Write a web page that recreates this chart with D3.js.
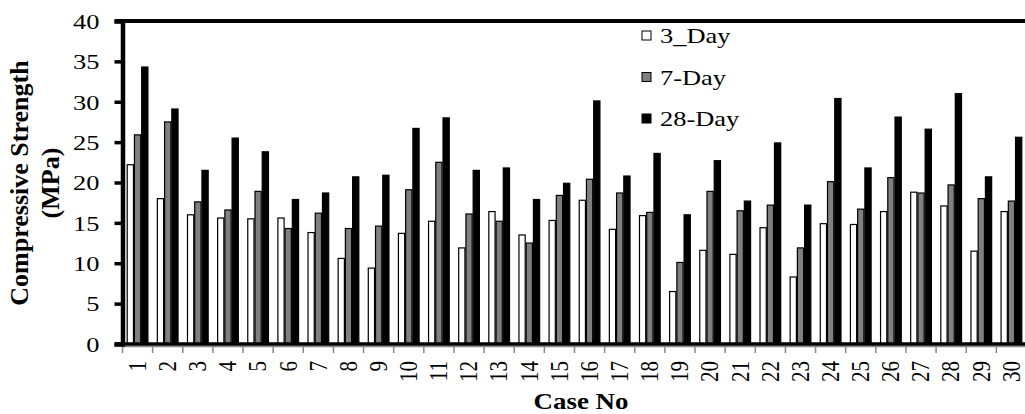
<!DOCTYPE html>
<html>
<head>
<meta charset="utf-8">
<script src="https://cdn.jsdelivr.net/npm/d3@7"></script>
<style>
  body { margin: 0; background: #fff; }
  svg text { font-family: "Liberation Serif", "Times New Roman", Times, serif; fill: #000; }
</style>
</head>
<body>
<div id="chart"></div>
<script>
// data
var cases = d3.range(1, 31).map(String);
var seriesNames = ["3_Day", "7-Day", "28-Day"];
var day3 = [22.2, 18.0, 16.0, 15.6, 15.5, 15.6, 13.8, 10.6, 9.4, 13.7,
            15.2, 11.9, 16.4, 13.5, 15.3, 17.8, 14.2, 15.9, 6.5, 11.6,
            11.1, 14.4, 8.3, 14.9, 14.8, 16.4, 18.8, 17.1, 11.5, 16.4];
var day7 = [25.9, 27.5, 17.6, 16.6, 18.9, 14.3, 16.2, 14.3, 14.6, 19.1,
            22.5, 16.1, 15.2, 12.5, 18.4, 20.4, 18.7, 16.3, 10.1, 18.9,
            16.5, 17.2, 11.9, 20.1, 16.7, 20.6, 18.7, 19.7, 18.0, 17.7];
var day28 = [34.3, 29.1, 21.5, 25.5, 23.8, 17.9, 18.7, 20.7, 20.9, 26.7,
             28.0, 21.5, 21.8, 17.9, 19.9, 30.1, 20.8, 23.6, 16.0, 22.7,
             17.7, 24.9, 17.2, 30.4, 21.8, 28.1, 26.6, 31.0, 20.7, 25.6];
var yTicks = [0, 5, 10, 15, 20, 25, 30, 35, 40];

var colors = ["#ffffff", "#808080", "#000000"];
var seriesValues = [day3, day7, day28];

// the original text is a bit stretched sideways
var stretch = 1.2;

var svgWidth = 1025, svgHeight = 414;
var svg = d3.select("#chart").append("svg")
    .attr("width", svgWidth)
    .attr("height", svgHeight);

var x0 = d3.scaleBand().domain(cases).range([122.5, 1026.5]).paddingInner(0.28).paddingOuter(0.14);
var x1 = d3.scaleBand().domain(seriesNames).range([0, x0.bandwidth()]);
var y = d3.scaleLinear().domain([0, 40]).range([344, 21]);
var step = x0.step();

// one row per bar
var rows = [];
cases.forEach(function (c, i) {
    seriesNames.forEach(function (s, j) {
        rows.push({ c: c, s: s, v: seriesValues[j][i], color: colors[j] });
    });
});

// bars
svg.append("g").selectAll("rect")
    .data(rows)
    .enter()
    .append("rect")
    .attr("x", d => x0(d.c) + x1(d.s) + 0.5)
    .attr("y", d => y(d.v))
    .attr("width", x1.bandwidth() - 1)
    .attr("height", d => y(0) - y(d.v))
    .attr("fill", d => d.color)
    .attr("stroke", "#000")
    .attr("stroke-width", 1.2);

// x ticks between categories (gray)
svg.append("g").selectAll("line")
    .data(cases)
    .enter()
    .append("line")
    .attr("x1", d => x0(d) - step * 0.14)
    .attr("x2", d => x0(d) - step * 0.14)
    .attr("y1", 346)
    .attr("y2", 353)
    .attr("stroke", "#888")
    .attr("stroke-width", 1.5);

svg.append("line")
    .attr("x1", 123).attr("x2", 1025)
    .attr("y1", 346.5).attr("y2", 346.5)
    .attr("stroke", "#888").attr("stroke-width", 1.5);

// baseline
svg.append("line")
    .attr("x1", 115).attr("x2", 1025)
    .attr("y1", y(0)).attr("y2", y(0))
    .attr("stroke", "#000").attr("stroke-width", 3.5);

// top border
svg.append("line")
    .attr("x1", 115).attr("x2", 1025)
    .attr("y1", y(40)).attr("y2", y(40))
    .attr("stroke", "#000").attr("stroke-width", 4);

// y axis
var leftAxis = d3.axisLeft(y).tickValues(yTicks).tickSize(8).tickPadding(11.3).tickFormat(d3.format("d"));
var yAxisG = svg.append("g")
    .attr("transform", "translate(122.5,0)")
    .call(leftAxis)
    .attr("font-family", null)
    .attr("font-size", null);
yAxisG.select(".domain").attr("stroke", "#000").attr("stroke-width", 4.5);
yAxisG.selectAll(".tick line").attr("stroke", "#000").attr("stroke-width", 3.5);
yAxisG.selectAll(".tick text")
    .attr("transform", `scale(${stretch},1)`)
    .attr("dy", "0.33em")
    .style("font-size", "22px");

// x labels
svg.append("g").selectAll("text")
    .data(cases)
    .enter()
    .append("text")
    .attr("transform", d => `translate(${x0(d) + x0.bandwidth() / 2}, 361) scale(${stretch},1) rotate(-90)`)
    .attr("text-anchor", "end")
    .attr("dy", "0.33em")
    .style("font-size", "21px")
    .text(d => d);

// axis titles
svg.append("text")
    .attr("transform", "translate(28,183) rotate(-90)")
    .attr("text-anchor", "middle")
    .style("font-weight", "bold")
    .style("font-size", "26px")
    .text("Compressive Strength");
svg.append("text")
    .attr("transform", "translate(59,183) rotate(-90)")
    .attr("text-anchor", "middle")
    .style("font-weight", "bold")
    .style("font-size", "26px")
    .text("(MPa)");
svg.append("text")
    .attr("transform", "translate(581,409) scale(1.12,1)")
    .attr("text-anchor", "middle")
    .style("font-weight", "bold")
    .style("font-size", "24px")
    .text("Case No");

// legend
var legend = svg.append("g").selectAll("g")
    .data(seriesNames)
    .enter()
    .append("g")
    .attr("transform", (d, i) => `translate(641, ${35.5 + i * 41.5})`);
legend.append("rect")
    .attr("x", 1).attr("y", -4.5)
    .attr("width", 9).attr("height", 9)
    .attr("fill", (d, i) => colors[i])
    .attr("stroke", "#000").attr("stroke-width", 1);
legend.append("text")
    .attr("transform", `translate(19,7.8) scale(${stretch},1)`)
    .style("font-size", "22px")
    .text(d => d);
</script>
</body>
</html>
